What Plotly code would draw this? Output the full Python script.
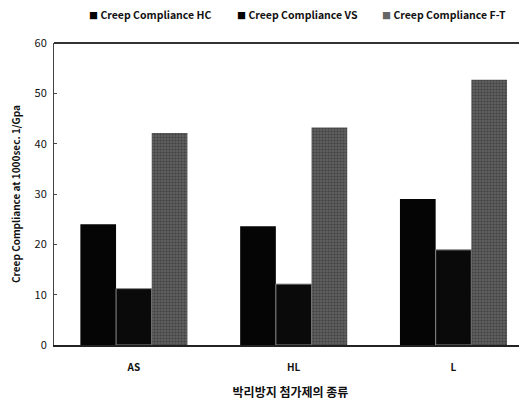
import plotly.graph_objects as go

categories = ["AS", "HL", "L"]
series_names = ["Creep Compliance HC", "Creep Compliance VS", "Creep Compliance F-T"]
hc_values = [24.0, 23.6, 29.0]
vs_values = [11.2, 12.1, 18.9]
ft_values = [42.1, 43.2, 52.7]
y_ticks = [0, 10, 20, 30, 40, 50, 60]

font_family = "Noto Sans CJK KR, Noto Sans, sans-serif"
colors = ["#050505", "#0a0a0a", "#555555"]

fig = go.Figure()
fig.add_trace(go.Bar(name=series_names[0], x=categories, y=hc_values,
                     marker=dict(color=colors[0], line=dict(width=0))))
fig.add_trace(go.Bar(name=series_names[1], x=categories, y=vs_values,
                     marker=dict(color=colors[1], line=dict(color="#888", width=1))))
fig.add_trace(go.Bar(name=series_names[2], x=categories, y=ft_values,
                     marker=dict(color=colors[2], line=dict(width=0),
                                 pattern=dict(shape=".", fgcolor="#222222", bgcolor="#606060",
                                              size=3, solidity=0.4))))

fig.update_layout(
    width=519, height=393,
    barmode="group", bargap=0.33, bargroupgap=0,
    paper_bgcolor="white", plot_bgcolor="white",
    margin=dict(l=46, r=0, t=35, b=56, autoexpand=False),
    font=dict(family=font_family, color="#111", size=11),
    showlegend=False,
    xaxis=dict(range=[-0.5, 2.46], showline=True, linecolor="#222", linewidth=1.5,
               ticks="", tickfont=dict(size=10, color="#111"), automargin=False,
               tickprefix="<b>", ticksuffix="</b>", ticklabelstandoff=12,
               title=dict(text="<b>박리방지 첨가제의 종류</b>", font=dict(size=12, color="#111"), standoff=16),
               mirror=False),
    yaxis=dict(range=[0, 60], tickvals=y_ticks, showline=True, linecolor="#444", linewidth=1,
               ticks="inside", ticklen=3, tickcolor="#444", showgrid=False, zeroline=False,
               tickfont=dict(size=11, color="#111"), automargin=False,
               tickprefix="<b>", ticksuffix="</b>", ticklabelstandoff=4,
               title=dict(text="<b>Creep Compliance at 1000sec. 1/Gpa</b>", font=dict(size=10, color="#111"), standoff=16)),
)

# legend drawn as text entries (reference legend is compact)
legend_x = [0.070, 0.383, 0.689]
legend_marker_colors = ["#000", "#000", "#666"]
for name, lx, mc in zip(series_names, legend_x, legend_marker_colors):
    fig.add_annotation(xref="paper", yref="paper", x=lx, y=1.096, xanchor="left", yanchor="middle",
                       showarrow=False,
                       text=f"<span style='color:{mc};font-size:9px'>■</span> <b>{name}</b>",
                       font=dict(size=10.5, color="#111"))

fig.add_shape(type="line", xref="paper", yref="paper", x0=0, x1=1, y0=1, y1=1,
              line=dict(color="#333", width=2))
fig.write_html("out.html")
